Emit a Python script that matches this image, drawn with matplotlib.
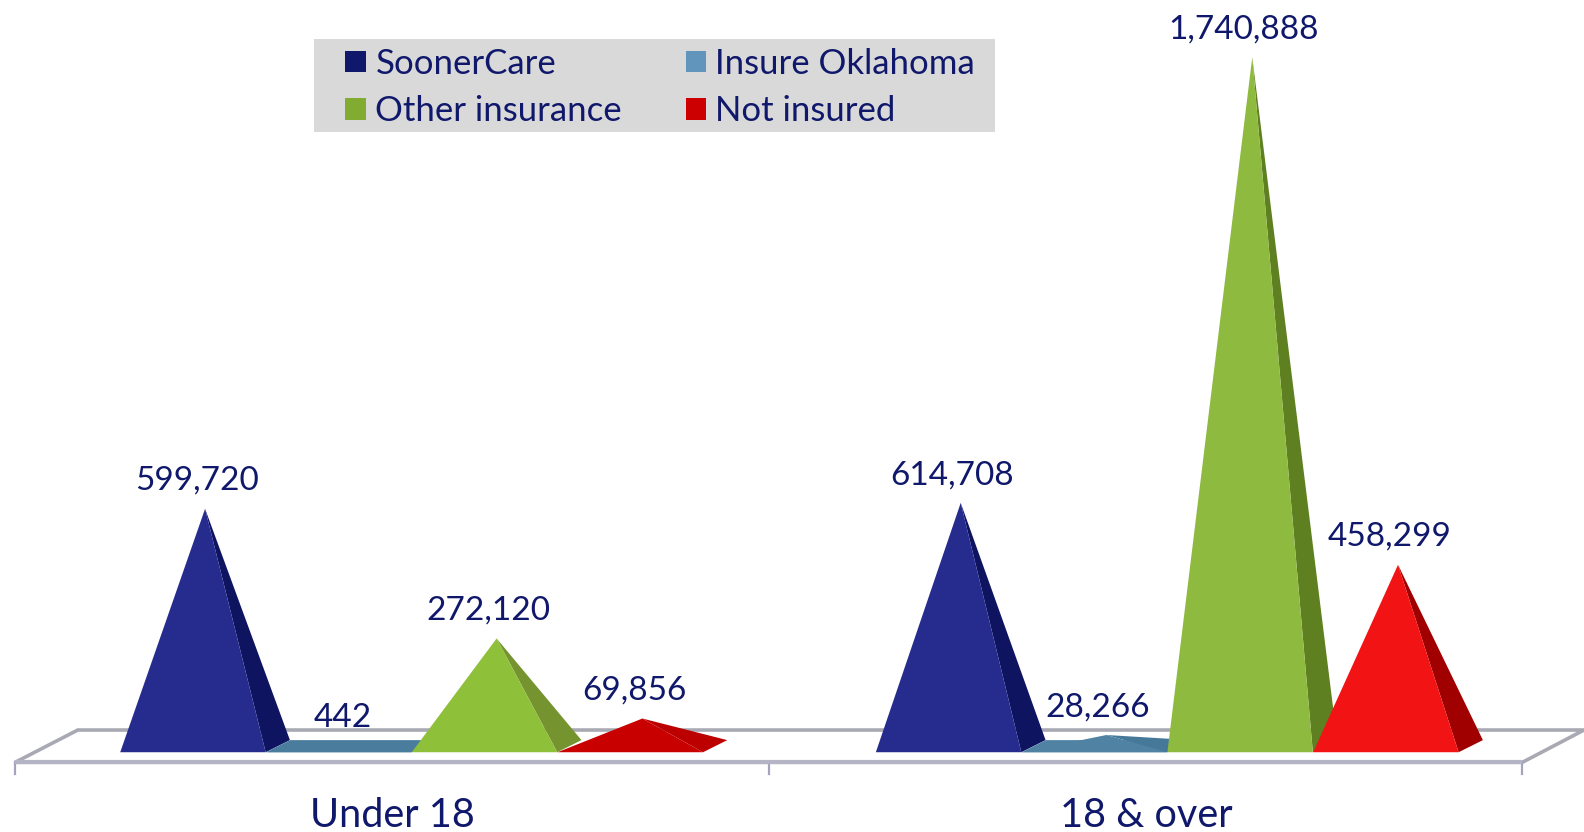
import matplotlib
matplotlib.use("Agg")
import matplotlib.pyplot as plt
from matplotlib.patches import Polygon, Patch, Rectangle

categories = ["Under 18", "18 & over"]
series_names = ["SoonerCare", "Insure Oklahoma", "Other insurance", "Not insured"]
sooner_care = [599720, 614708]
insure_oklahoma = [442, 28266]
other_insurance = [272120, 1740888]
not_insured = [69856, 458299]

legend_colors = ["#10186B", "#6295BB", "#82AB32", "#CC0000"]
front_colors = [["#262C8E", "#262C8E"], ["#4A7C9E", "#4F82A3"], ["#8FC03A", "#8FBA40"], ["#C80000", "#F21414"]]
side_colors = [["#0F1460", "#0F1460"], ["#4A7C9E", "#46789A"], ["#75942F", "#5E8020"], ["#BC0000", "#A00000"]]
text_color = "#10186B"
floor_color = "#A9A9B4"

plt.rcParams["font.family"] = ["Lato", "DejaVu Sans"]

W, H = 1568, 824          # layout grid (reference px, shrunk)
BASE_PX = 739.0           # pixel row of value 0 (pyramid footprint centre)
PX_PER_UNIT = 0.000392

def row(px):
    return (BASE_PX - px) / PX_PER_UNIT

fig = plt.figure(figsize=(15.84, 8.32), dpi=100)
ax = fig.add_axes([0, 0, 1, 1])
ax.set_xlim(0, W)
ax.set_ylim(row(H), row(0))
ax.axis("off")

# floor
ax.add_patch(Polygon([(15, row(755)), (1507, row(755)), (1568, row(723)), (77, row(723))],
                     closed=True, facecolor="white", edgecolor=floor_color, lw=2.6, zorder=1,
                     joinstyle="miter", clip_on=False))
ax.plot([15, 1507], [row(755), row(755)], color="#B4B4C6", lw=3.0, zorder=1.5, solid_capstyle="butt")
for x in (15, 761, 1507):
    ax.plot([x, x], [row(755), row(767)], color="#A4A4BE", lw=1.6, zorder=1)

# pyramids
group_starts = [119, 867]
STEP, WIDTH, DX, DY = 144.3, 144, 24, 12
all_series = [sooner_care, insure_oklahoma, other_insurance, not_insured]
z = 2
for g, start in enumerate(group_starts):
    for s, values in enumerate(all_series):
        left = start + STEP * s
        v = values[g]
        apex = (left + (WIDTH + DX) / 2, v)
        y_front = row(BASE_PX + DY / 2)
        y_back = row(BASE_PX - DY / 2)
        # footprint, visible only on the flattest pyramids
        if v < 50000:
            ax.add_patch(Polygon([(left, y_front), (left + WIDTH, y_front), (left + WIDTH + DX, y_back),
                                  (left + DX, y_back)],
                                 closed=True, facecolor=front_colors[s][g], edgecolor="none", zorder=z))
        ax.add_patch(Polygon([(left + WIDTH, y_front), (left + WIDTH + DX, y_back), apex],
                             closed=True, facecolor=side_colors[s][g], edgecolor="none", zorder=z + 0.1))
        ax.add_patch(Polygon([(left, y_front), (left + WIDTH, y_front), apex],
                             closed=True, facecolor=front_colors[s][g], edgecolor="none", zorder=z + 0.2))
        z += 1
        ax.annotate(f"{v:,}", xy=apex, xytext=(-6, 20), textcoords="offset points",
                    ha="center", va="center", fontsize=24, color=text_color, zorder=50)

# category labels
for x, c in zip((388, 1135), categories):
    ax.text(x, row(808), c, ha="center", va="center", fontsize=28.5, color=text_color)

# legend
ax.add_patch(Rectangle((311, row(131)), 674, row(39) - row(131), facecolor="#D9D9D9",
                       edgecolor="none", zorder=0.5))
handles = [Patch(facecolor=c, edgecolor="none") for c in legend_colors]
order = [0, 2, 1, 3]
leg = ax.legend([handles[i] for i in order], [series_names[i] for i in order], ncol=2,
                loc="upper left", bbox_to_anchor=(342 / W, 1 - 47.4 / H), borderaxespad=0,
                frameon=False, fontsize=25, labelcolor=text_color,
                handlelength=0.58, handleheight=0.58, handletextpad=0.28,
                columnspacing=1.83, labelspacing=0.45, borderpad=0)
leg.set_zorder(60)

fig.savefig("out.png", dpi=100, facecolor="white")
